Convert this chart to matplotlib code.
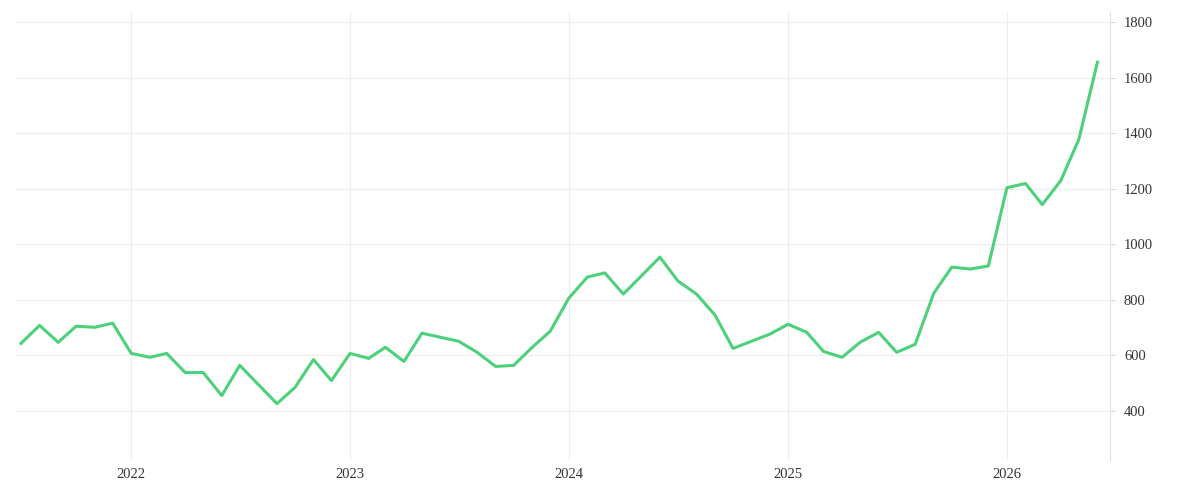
import matplotlib
matplotlib.use("Agg")
import matplotlib.pyplot as plt
import matplotlib.dates as mdates
import pandas as pd

dates = pd.date_range("2021-07-01", periods=60, freq="MS")
values = [642, 707, 646, 704, 700, 715, 606, 592, 606, 537, 537, 454,
          563, 494, 425, 483, 584, 508, 606, 588, 628, 577, 679, 664,
          650, 610, 559, 563, 628, 686, 805, 881, 896, 820, 885, 953,
          867, 820, 744, 624, 650, 675, 711, 682, 613, 592, 646, 682,
          610, 639, 823, 917, 910, 921, 1203, 1218, 1142, 1229, 1377, 1655]
yticks = [400, 600, 800, 1000, 1200, 1400, 1600, 1800]

plt.rcParams['font.family'] = ['Liberation Serif', 'DejaVu Serif']
fig = plt.figure(figsize=(12, 5), dpi=100)
ax = fig.add_axes([0.013, 0.08, 0.912, 0.896])
ax.plot(dates, values, color="#4cd07a", lw=2.2)
ax.set_ylim(222, 1836)
ax.set_xlim(pd.Timestamp("2021-06-22"), pd.Timestamp("2026-06-22"))
ax.set_yticks(yticks)
ax.yaxis.tick_right()
ax.xaxis.set_major_locator(mdates.YearLocator())
ax.xaxis.set_major_formatter(mdates.DateFormatter("%Y"))
ax.grid(True, color="#ececec", lw=0.8)
for s in ["top", "left", "bottom"]:
    ax.spines[s].set_visible(False)
ax.spines["right"].set_color("#e0e0e0")
ax.tick_params(axis="both", length=0, labelsize=10.5, colors="#333333", pad=6)
ax.tick_params(axis="y", length=4, color="#dddddd")
fig.savefig("out.png")
